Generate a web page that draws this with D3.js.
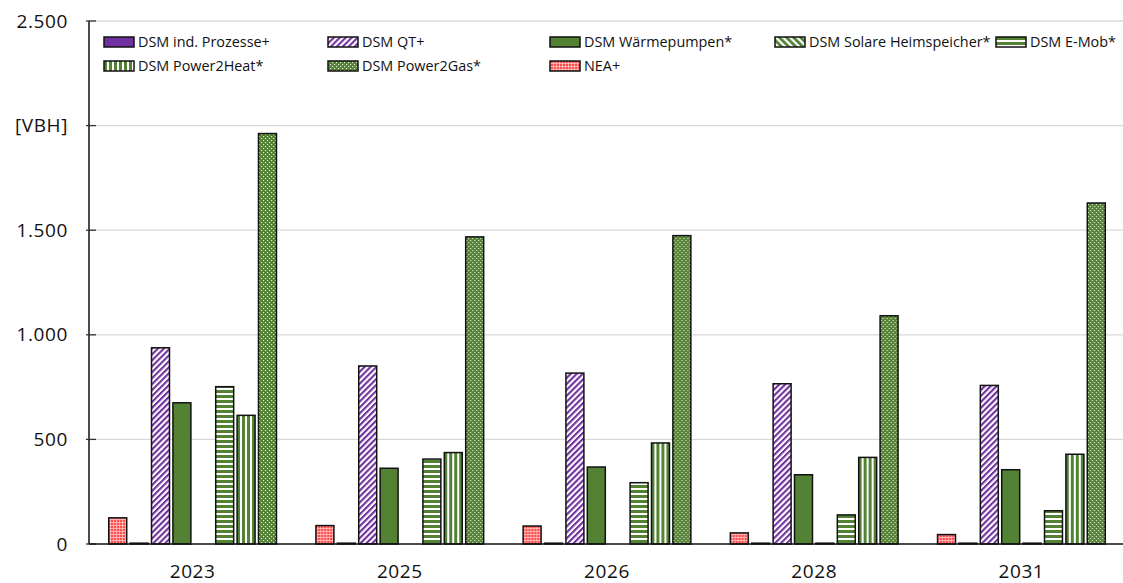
<!DOCTYPE html>
<html><head><meta charset="utf-8">
<script src="https://cdn.jsdelivr.net/npm/d3@7"></script>
<style>
html,body{margin:0;padding:0;background:#fff;}
svg{display:block;font-family:"Open Sans","Liberation Sans",sans-serif;}
</style></head>
<body>
<svg id="chart" width="1123" height="583"></svg>
<script>
const years = ["2023","2025","2026","2028","2031"];
const barOrder = ["NEA+","DSM ind. Prozesse+","DSM QT+","DSM Wärmepumpen*","DSM Solare Heimspeicher*","DSM E-Mob*","DSM Power2Heat*","DSM Power2Gas*"];
const legendOrder = ["DSM ind. Prozesse+","DSM QT+","DSM Wärmepumpen*","DSM Solare Heimspeicher*","DSM E-Mob*","DSM Power2Heat*","DSM Power2Gas*","NEA+"];
const neaValues = [125, 88, 86, 53, 45];
const indProzesseValues = [4, 4, 4, 4, 4];
const qtValues = [938, 851, 817, 766, 758];
const waermepumpenValues = [675, 362, 368, 331, 355];
const solarValues = [null, null, null, 4, 4];
const emobValues = [752, 406, 293, 139, 159];
const power2heatValues = [615, 437, 483, 414, 429];
const power2gasValues = [1962, 1468, 1474, 1091, 1630];
const yTicks = [0, 500, 1000, 1500, 2000, 2500];
const yTickLabels = ["0", "500", "1.000", "1.500", "[VBH]", "2.500"];

const seriesValues = {
  "NEA+": neaValues,
  "DSM ind. Prozesse+": indProzesseValues,
  "DSM QT+": qtValues,
  "DSM Wärmepumpen*": waermepumpenValues,
  "DSM Solare Heimspeicher*": solarValues,
  "DSM E-Mob*": emobValues,
  "DSM Power2Heat*": power2heatValues,
  "DSM Power2Gas*": power2gasValues
};

const svg = d3.select("#chart");
const defs = svg.append("defs");
const purple = "#7030A0", green = "#548235", red = "#FF4B4B";

function pat(id, w, h, bg, build, transform) {
  const p = defs.append("pattern").attr("id", id).attr("patternUnits", "userSpaceOnUse")
    .attr("width", w).attr("height", h);
  if (transform) p.attr("patternTransform", transform);
  p.append("rect").attr("width", w).attr("height", h).attr("fill", bg);
  build(p);
}
pat("pQT", 4.2, 4.2, "#fff", p => p.append("rect").attr("width", 2.1).attr("height", 4.2).attr("fill", purple), "rotate(45)");
pat("pSolar", 5, 5, "#fff", p => p.append("rect").attr("width", 2.8).attr("height", 5).attr("fill", green), "rotate(-45)");
pat("pEmob", 6, 5, "#fff", p => p.append("rect").attr("width", 6).attr("height", 3).attr("fill", green));
pat("pP2H", 5, 6, "#fff", p => p.append("rect").attr("width", 3).attr("height", 6).attr("fill", green));
pat("pP2G", 4, 4, green, p => {
  p.append("rect").attr("x", 0).attr("y", 0).attr("width", 1.1).attr("height", 1.1).attr("fill", "#e6f0df");
  p.append("rect").attr("x", 2).attr("y", 2).attr("width", 1.1).attr("height", 1.1).attr("fill", "#e6f0df");
});
pat("pNEA", 3, 3, red, p => {
  p.append("rect").attr("x", 0).attr("y", 0).attr("width", 3).attr("height", 0.8).attr("fill", "#ffc4c4");
  p.append("rect").attr("x", 0).attr("y", 0).attr("width", 0.8).attr("height", 3).attr("fill", "#ffc4c4");
});

const fills = {
  "NEA+": "url(#pNEA)",
  "DSM ind. Prozesse+": purple,
  "DSM QT+": "url(#pQT)",
  "DSM Wärmepumpen*": green,
  "DSM Solare Heimspeicher*": "url(#pSolar)",
  "DSM E-Mob*": "url(#pEmob)",
  "DSM Power2Heat*": "url(#pP2H)",
  "DSM Power2Gas*": "url(#pP2G)"
};

const pLeft = 89, pRight = 1125, pTop = 21, pBottom = 544;
const y = d3.scaleLinear().domain([0, 2500]).range([pBottom, pTop]);
const x0 = d3.scaleBand().domain(years).range([pLeft, pRight]).paddingInner(0.174).paddingOuter(0.087);
const x1 = d3.scaleBand().domain(barOrder).range([0, x0.bandwidth()]).paddingInner(0.16).paddingOuter(0.08);

svg.append("g").selectAll("line").data(yTicks.filter(t => t > 0)).join("line")
  .attr("x1", pLeft).attr("x2", 1123).attr("y1", d => y(d)).attr("y2", d => y(d))
  .attr("stroke", "#d9d9d9").attr("stroke-width", 1.3);

const groups = svg.append("g").selectAll("g").data(years).join("g")
  .attr("transform", d => `translate(${x0(d)},0)`);
groups.selectAll("rect").data((yr, i) => barOrder.map(s => ({s, v: seriesValues[s][i]})).filter(d => d.v !== null))
  .join("rect")
  .attr("x", d => x1(d.s)).attr("width", x1.bandwidth())
  .attr("y", d => y(d.v)).attr("height", d => pBottom - y(d.v))
  .attr("fill", d => fills[d.s]).attr("stroke", "#111").attr("stroke-width", 1.5);

const yAxis = d3.axisLeft(y).tickValues(yTicks).tickSize(0).tickFormat((d, i) => yTickLabels[i]);
const yg = svg.append("g").attr("transform", `translate(${pLeft},0)`).call(yAxis);
yg.select(".domain").remove();
yg.selectAll("text").attr("x", -21).attr("font-size", 19).attr("fill", "#111").attr("letter-spacing", 0.6)
  .attr("font-family", "Open Sans, sans-serif");
svg.append("line").attr("x1", pLeft).attr("x2", pLeft).attr("y1", pTop).attr("y2", pBottom).attr("stroke", "#111").attr("stroke-width", 1.5);
svg.append("g").selectAll("line").data(yTicks).join("line")
  .attr("x1", pLeft - 3).attr("x2", pLeft + 7).attr("y1", d => y(d)).attr("y2", d => y(d))
  .attr("stroke", "#333").attr("stroke-width", 1.3);
svg.append("text").attr("x", 66).attr("y", y(2000) + 5).attr("font-size", 9).attr("fill", "#ccc").text("(");

const xAxis = d3.axisBottom(x0).tickSize(0);
const xg = svg.append("g").attr("transform", `translate(0,${pBottom})`).call(xAxis);
xg.select(".domain").remove();
xg.selectAll("text").attr("y", 21).attr("font-size", 19).attr("fill", "#111").attr("letter-spacing", 0.6)
  .attr("font-family", "Open Sans, sans-serif");
svg.append("line").attr("x1", pLeft).attr("x2", 1123).attr("y1", pBottom).attr("y2", pBottom).attr("stroke", "#111").attr("stroke-width", 1.5);

const legendPos = [[104,42],[328,42],[550,42],[775,42],[996,42],[104,66],[328,66],[550,66]];
const lg = svg.append("g").selectAll("g").data(legendOrder).join("g")
  .attr("transform", (d, i) => `translate(${legendPos[i][0]},${legendPos[i][1]})`);
lg.append("rect").attr("x", 0).attr("y", -5).attr("width", 30).attr("height", 10)
  .attr("fill", d => fills[d]).attr("stroke", "#111").attr("stroke-width", 1.5);
lg.append("text").attr("x", 34).attr("y", 5).attr("font-size", 14.4).attr("fill", "#111").text(d => d);
</script>
</body></html>
